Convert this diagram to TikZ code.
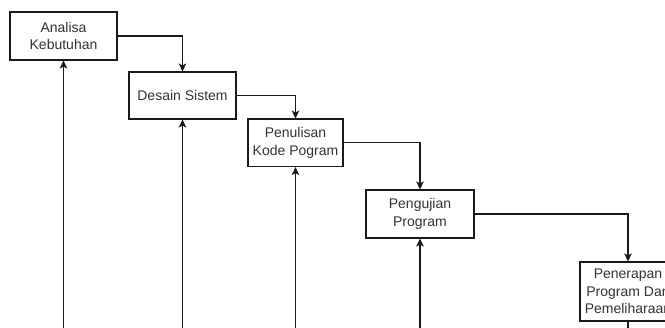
\documentclass[tikz,border=0pt]{standalone}
\usepackage{fontspec}
\setmainfont{Liberation Sans}
\usetikzlibrary{arrows.meta}
\definecolor{txt}{HTML}{333333}
\definecolor{ln}{HTML}{1A1A1A}
\begin{document}
\begin{tikzpicture}[x=1pt,y=-1pt,
  stepbox/.style={draw=ln, line width=1.1pt, fill=white, align=center, inner sep=0pt,
    font=\fontsize{14}{17.6}\selectfont, text=txt},
  flow/.style={draw=ln, line width=1.1pt, -{Stealth[length=8pt,width=7.5pt,inset=2pt]}},
  plain/.style={draw=ln, line width=1.1pt}]
\useasboundingbox (0,0) rectangle (665,328);
\clip (0,0) rectangle (665,328);
\fill[white] (0,0) rectangle (665,328);
\node[stepbox, minimum width=107pt, minimum height=48pt] (A) at (63.5,36) {Analisa\\Kebutuhan};
\node[stepbox, minimum width=107pt, minimum height=47pt] (B) at (182.5,95.5) {Desain Sistem};
\node[stepbox, minimum width=95pt, minimum height=47.5pt] (C) at (295.5,142.8) {Penulisan\\Kode Pogram};
\node[stepbox, minimum width=108pt, minimum height=48pt] (D) at (420,214) {Pengujian\\Program};
\node[stepbox, minimum width=96pt, minimum height=59pt] (E) at (628,291.5) {Penerapan\\Program Dan\\Pemeliharaan};
\coordinate (ba) at (63.5,340);
\coordinate (bb) at (182.5,340);
\coordinate (bc) at (295.5,340);
\coordinate (bd) at (420,340);
\coordinate (be) at (628,340);
\draw[flow] (A.east) -| (B.north);
\draw[flow] (B.east) -| (C.north);
\draw[flow] (C.east) -| (D.north);
\draw[flow] (D.east) -| (E.north);
\draw[flow] (ba) -- (A.south);
\draw[flow] (bb) -- (B.south);
\draw[flow] (bc) -- (C.south);
\draw[flow] (bd) -- (D.south);
\draw[plain] (E.south) -- (be);
\end{tikzpicture}
\end{document}
